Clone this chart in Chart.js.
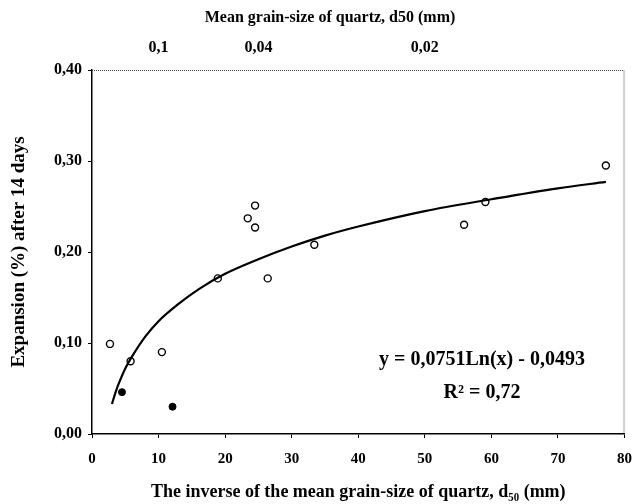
<!DOCTYPE html>
<html>
<head>
<meta charset="utf-8">
<script src="https://cdn.jsdelivr.net/npm/chart.js@4"></script>
<style>
  html, body { margin: 0; padding: 0; background: #fff; }
  #wrap { width: 644px; height: 504px; }
</style>
</head>
<body>
<div id="wrap"><canvas id="chart" width="644" height="504"></canvas></div>
<script>
// measured samples (1/d50, expansion %)
var openX = [2.7, 5.8, 10.5, 18.9, 23.4, 24.5, 24.5, 26.4, 33.4, 55.9, 59.1, 77.2];
var openY = [0.099, 0.080, 0.090, 0.171, 0.237, 0.251, 0.227, 0.171, 0.208, 0.230, 0.255, 0.295];
var filledX = [4.5, 12.1];
var filledY = [0.046, 0.030];

// trend curve
var trendX = [3, 3.5, 4, 5, 6, 8, 10, 13, 16, 20, 25, 30, 35, 40, 50, 60, 70, 77.2];
var trendY = [0.033, 0.045, 0.055, 0.072, 0.085, 0.107, 0.124, 0.143, 0.159, 0.176, 0.192, 0.206, 0.218, 0.228, 0.245, 0.258, 0.270, 0.277];

// top axis (mean grain size) labels and where they sit on the 1/d50 scale
var topTickPos = [10, 25, 50];
var topTickLabels = ['0,1', '0,04', '0,02'];

var equationLines = ['y = 0,0751Ln(x) - 0,0493', 'R² = 0,72'];

function pts(xs, ys) {
    return xs.map(function (x, i) { return { x: x, y: ys[i] }; });
}

var serif = '"Liberation Serif", "Times New Roman", serif';

var extras = {
    id: 'extras',
    afterDraw: function (chart) {
        var ctx = chart.ctx;
        var a = chart.chartArea;
        ctx.save();
        // dotted top and right frame
        ctx.strokeStyle = '#444';
        ctx.lineWidth = 1;
        ctx.setLineDash([1, 1]);
        ctx.beginPath();
        ctx.moveTo(a.left, a.top + 0.5);
        ctx.lineTo(a.right - 0.5, a.top + 0.5);
        ctx.lineTo(a.right - 0.5, a.bottom);
        ctx.stroke();
        ctx.setLineDash([]);

        ctx.fillStyle = '#000';
        ctx.textAlign = 'center';
        ctx.textBaseline = 'middle';
        ctx.font = 'bold 16px ' + serif;
        ctx.fillText('Mean grain-size of quartz, d50 (mm)', 330, 18);

        ctx.font = 'bold 20px ' + serif;
        ctx.fillText(equationLines[0], 482, 360);
        ctx.fillText(equationLines[1], 482, 393);
        ctx.restore();
    }
};

var ctx = document.getElementById('chart').getContext('2d');
var chart = new Chart(ctx, {
    type: 'scatter',
    data: {
        datasets: [{
            data: pts(trendX, trendY),
            showLine: true,
            borderColor: '#000',
            borderWidth: 2.2,
            pointRadius: 0,
            cubicInterpolationMode: 'monotone',
            fill: false
        }, {
            data: pts(openX, openY),
            pointStyle: 'circle',
            pointRadius: 3.5,
            pointBorderWidth: 1.4,
            pointBorderColor: '#000',
            pointBackgroundColor: '#fff'
        }, {
            data: pts(filledX, filledY),
            pointStyle: 'circle',
            pointRadius: 3.5,
            pointBorderWidth: 1,
            pointBorderColor: '#000',
            pointBackgroundColor: '#000'
        }]
    },
    options: {
        responsive: false,
        animation: false,
        layout: { padding: { left: 0, right: 11, top: 0, bottom: 0 } },
        plugins: {
            legend: { display: false },
            tooltip: { enabled: false }
        },
        scales: {
            x: {
                type: 'linear',
                position: 'bottom',
                min: 0,
                max: 80,
                afterFit: function (s) { s.height = 70; },
                ticks: {
                    stepSize: 10,
                    color: '#000',
                    padding: 12,
                    font: { family: serif, size: 15, weight: 'bold' }
                },
                grid: { drawOnChartArea: false, tickLength: 4, color: '#000' },
                border: { color: '#000', width: 1.5 },
                title: {
                    display: true,
                    text: 'The inverse of the mean grain-size of quartz, d₅₀ (mm)',
                    color: '#000',
                    font: { family: serif, size: 18, weight: 'bold' },
                    padding: { top: 0, bottom: 1 }
                }
            },
            x2: {
                type: 'linear',
                position: 'top',
                min: 0,
                max: 80,
                afterFit: function (s) { s.height = 70; },
                afterBuildTicks: function (s) {
                    s.ticks = topTickPos.map(function (v) { return { value: v }; });
                },
                ticks: {
                    color: '#000',
                    padding: 5,
                    font: { family: serif, size: 16, weight: 'bold' },
                    callback: function (v, i) { return topTickLabels[i]; }
                },
                grid: { display: false },
                border: { display: false }
            },
            y: {
                min: 0,
                max: 0.4,
                afterFit: function (s) { s.width = 92; },
                ticks: {
                    stepSize: 0.1,
                    color: '#000',
                    padding: 6,
                    font: { family: serif, size: 16, weight: 'bold' },
                    callback: function (v) { return v.toFixed(2).replace('.', ','); }
                },
                grid: { drawOnChartArea: false, tickLength: 4, color: '#000' },
                border: { color: '#000', width: 1.5 },
                title: {
                    display: true,
                    text: 'Expansion (%) after 14 days',
                    color: '#000',
                    font: { family: serif, size: 19, weight: 'bold' },
                    padding: { top: 8, bottom: 0 }
                }
            }
        }
    },
    plugins: [extras]
});
</script>
</body>
</html>
